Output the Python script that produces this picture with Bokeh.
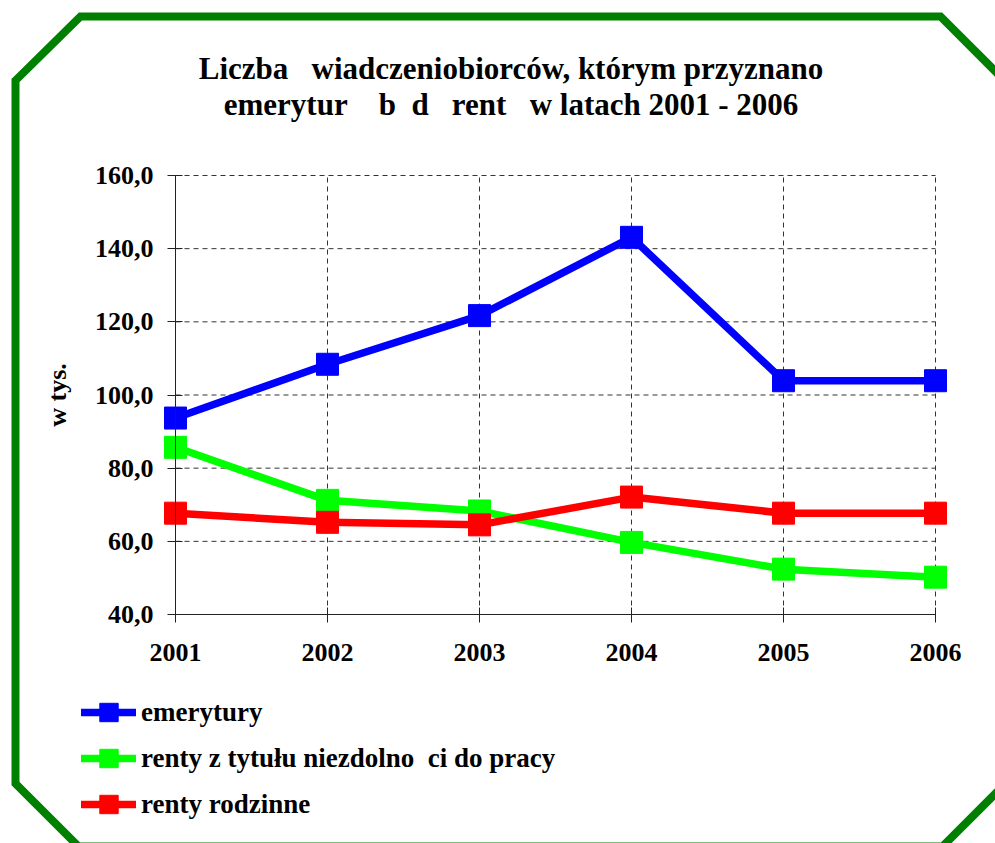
from bokeh.plotting import figure
from bokeh.models import (Range1d, FixedTicker, Legend, LegendItem, Label,
                          PolyAnnotation, LinearAxis)
from bokeh.embed import file_html
from bokeh.resources import INLINE

# ---- data ----
years = [2001, 2002, 2003, 2004, 2005, 2006]
x_tick_labels = ["2001", "2002", "2003", "2004", "2005", "2006"]
emerytury = [93.7, 108.4, 121.7, 143.1, 103.9, 103.9]
renty_niezdolnosc = [85.7, 71.2, 68.3, 59.7, 52.4, 50.2]
renty_rodzinne = [67.7, 65.2, 64.5, 72.1, 67.7, 67.7]
y_ticks = [40, 60, 80, 100, 120, 140, 160]
y_tick_labels = ["40,0", "60,0", "80,0", "100,0", "120,0", "140,0", "160,0"]
NB = "\u00a0"
series_names = ["emerytury",
                "renty z tytułu niezdolno" + NB * 2 + "ci do pracy",
                "renty rodzinne"]
series_colors = ["#0000FF", "#00FF00", "#FF0000"]
title_lines = ["Liczba " + NB * 2 + "wiadczeniobiorców, którym przyznano",
               "emerytur" + NB * 3 + " b" + NB * 2 + "d" + NB * 2 + " rent" + NB * 2 + " w latach 2001 - 2006"]
y_label = "w tys."

FONT = "Liberation Serif"
W, H = 995, 843
# plot area in canvas pixels (left, right, top, bottom)
PL, PR, PT, PB = 175, 935, 175, 614
kx = (PR - PL) / (years[-1] - years[0])
ky = (PB - PT) / (y_ticks[-1] - y_ticks[0])
x_range = Range1d(years[0] - PL / kx, years[-1] + (W - PR) / kx)
y_range = Range1d(y_ticks[0] - (H - PB) / ky, y_ticks[-1] + PT / ky)

p = figure(width=W, height=H, output_backend="svg", toolbar_location=None,
           x_range=x_range, y_range=y_range,
           x_axis_type=None, y_axis_type=None,
           min_border=0)
p.outline_line_color = None
p.background_fill_color = "white"
p.border_fill_color = "white"

# octagon frame (canvas pixels)
oct_x = [15, 80, 940, 1004, 1004, 942, 78, 15]
oct_y = [80, 16, 16, 80, 784, 846, 846, 783]
p.add_layout(PolyAnnotation(xs=oct_x, ys=oct_y, xs_units="canvas", ys_units="canvas",
                            fill_alpha=0, line_color="#008000", line_alpha=1.0,
                            line_width=8, line_join="miter"))

# gridlines (dashed) derived from tick arrays
hy = y_ticks[1:]
p.segment(x0=[years[0]] * len(hy), y0=hy, x1=[years[-1]] * len(hy), y1=hy,
          line_color="#333333", line_dash="5 4", line_width=1)
vx = years[1:]
p.segment(x0=vx, y0=[y_ticks[0]] * len(vx), x1=vx, y1=[y_ticks[-1]] * len(vx),
          line_color="#333333", line_dash="5 4", line_width=1)

# axes
xaxis = LinearAxis(ticker=FixedTicker(ticks=years), bounds=(years[0], years[-1]),
                   fixed_location=y_ticks[0])
xaxis.major_label_overrides = {y: s for y, s in zip(years, x_tick_labels)}
yaxis = LinearAxis(ticker=FixedTicker(ticks=y_ticks), bounds=(y_ticks[0], y_ticks[-1]),
                   fixed_location=years[0], axis_label=y_label)
yaxis.major_label_overrides = {v: s for v, s in zip(y_ticks, y_tick_labels)}
for ax in (xaxis, yaxis):
    ax.axis_line_color = "#222222"
    ax.axis_line_width = 1
    ax.major_tick_line_color = "#222222"
    ax.major_tick_in = 7
    ax.major_tick_out = 8
    ax.minor_tick_line_color = None
    ax.major_label_text_font = FONT
    ax.major_label_text_font_style = "bold"
    ax.major_label_text_font_size = "26px"
    ax.major_label_text_color = "black"
xaxis.major_label_standoff = 21
yaxis.major_label_standoff = 14
yaxis.axis_label_text_font = FONT
yaxis.axis_label_text_font_style = "bold"
yaxis.axis_label_text_font_size = "26px"
yaxis.axis_label_text_color = "black"
yaxis.axis_label_standoff = 20
p.add_layout(xaxis, "below")
p.add_layout(yaxis, "left")

# series
items = []
for vals, color, name in zip([emerytury, renty_niezdolnosc, renty_rodzinne],
                             series_colors, series_names):
    l = p.line(years, vals, line_color=color, line_width=7.5, line_cap="round")
    s = p.scatter(years, vals, marker="square", size=22, fill_color=color,
                  line_color=color, line_width=1)
    items.append(LegendItem(label=name, renderers=[l, s]))

legend = Legend(items=items, location=(81, 16), orientation="vertical",
                glyph_width=55, glyph_height=46, label_standoff=5, spacing=0,
                padding=0, margin=0, border_line_color=None,
                background_fill_alpha=0,
                label_text_font=FONT, label_text_font_style="bold",
                label_text_font_size="27px", label_text_color="black")
p.add_layout(legend)

# title
for i, t in enumerate(title_lines):
    p.add_layout(Label(x=510.5, y=H - 68 - 36 * i, x_units="screen", y_units="screen",
                       text=t, text_align="center", text_baseline="alphabetic",
                       text_font=FONT, text_font_style="bold",
                       text_font_size="31px", text_color="black"))

open("out.html", "w").write(file_html(p, INLINE))
